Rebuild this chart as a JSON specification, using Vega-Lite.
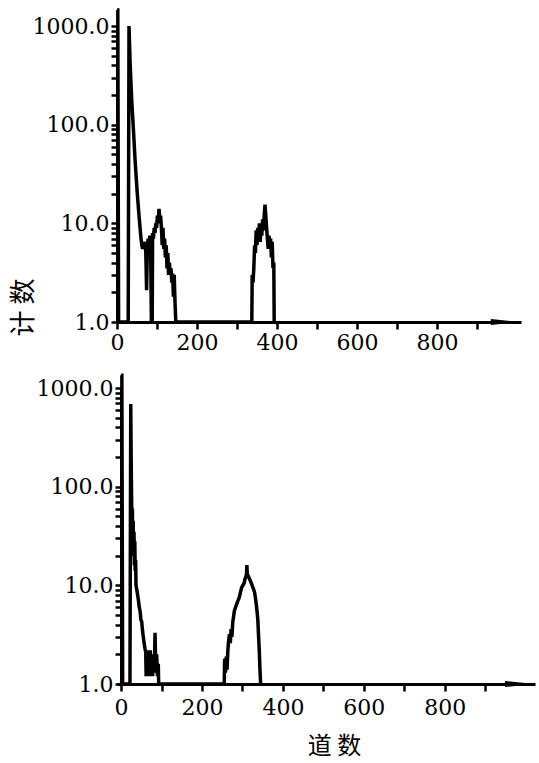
{
  "$schema": "https://vega.github.io/schema/vega-lite/v6.json",
  "padding": {"left": 10, "top": 3, "right": 5, "bottom": 15},
  "background": "white",
  "spacing": 66,
  "bounds": "flush",
  "config": {
    "view": {"stroke": null},
    "axis": {"grid": false, "domainColor": "black", "domainWidth": 3, "tickColor": "black", "tickWidth": 2.5, "labelColor": "black", "titleColor": "black", "labelFont": "DejaVu Serif"}
  },
  "datasets": {
    "top": [
      {"ch":0,"count":1450},{"ch":2,"count":1450},{"ch":4,"count":1},{"ch":28,"count":1},{"ch":30,"count":1000},{"ch":33,"count":400},{"ch":37,"count":170},{"ch":41,"count":90},{"ch":45,"count":45},{"ch":50,"count":22},{"ch":55,"count":12},{"ch":60,"count":7},{"ch":62,"count":6},{"ch":64,"count":5.5},{"ch":66,"count":6},{"ch":68,"count":5.5},{"ch":70,"count":6.5},{"ch":72,"count":5},{"ch":74,"count":2.1},{"ch":76,"count":6},{"ch":78,"count":7},{"ch":80,"count":5},{"ch":82,"count":7.5},{"ch":84,"count":6},{"ch":86,"count":1},{"ch":88,"count":1},{"ch":89,"count":8},{"ch":91,"count":7},{"ch":93,"count":9},{"ch":95,"count":8},{"ch":97,"count":10},{"ch":99,"count":9},{"ch":101,"count":12},{"ch":103,"count":10},{"ch":105,"count":14},{"ch":107,"count":11},{"ch":109,"count":12},{"ch":111,"count":9},{"ch":113,"count":6},{"ch":115,"count":9},{"ch":117,"count":5.5},{"ch":119,"count":7},{"ch":121,"count":4.5},{"ch":123,"count":6},{"ch":125,"count":3.5},{"ch":127,"count":5},{"ch":129,"count":3},{"ch":131,"count":4},{"ch":133,"count":3},{"ch":135,"count":3.5},{"ch":137,"count":2.5},{"ch":139,"count":3.1},{"ch":141,"count":1.8},{"ch":143,"count":3},{"ch":145,"count":1.6},{"ch":147,"count":1},
      {"ch":337,"count":1},{"ch":338,"count":3},{"ch":340,"count":2.5},{"ch":342,"count":3.5},{"ch":344,"count":6},{"ch":346,"count":5},{"ch":348,"count":8.5},{"ch":350,"count":6},{"ch":352,"count":9},{"ch":354,"count":7},{"ch":356,"count":10},{"ch":358,"count":6.5},{"ch":360,"count":9},{"ch":362,"count":7.5},{"ch":364,"count":11},{"ch":366,"count":8.5},{"ch":368,"count":12},{"ch":370,"count":15.5},{"ch":372,"count":12},{"ch":374,"count":9},{"ch":376,"count":7},{"ch":378,"count":5.5},{"ch":380,"count":7.5},{"ch":382,"count":6},{"ch":384,"count":7},{"ch":386,"count":4.5},{"ch":388,"count":6.5},{"ch":390,"count":3.5},{"ch":392,"count":4},{"ch":393,"count":1}
    ],
    "bottom": [
      {"ch":0,"count":1350},{"ch":2,"count":1350},{"ch":4,"count":1},{"ch":22,"count":1},{"ch":24,"count":690},{"ch":25,"count":200},{"ch":26,"count":80},{"ch":27,"count":40},{"ch":28,"count":60},{"ch":29,"count":25},{"ch":30,"count":45},{"ch":31,"count":20},{"ch":32,"count":35},{"ch":33,"count":16},{"ch":34,"count":28},{"ch":35,"count":14},{"ch":36,"count":18},{"ch":37,"count":10},{"ch":39,"count":9},{"ch":41,"count":8},{"ch":43,"count":7},{"ch":45,"count":6},{"ch":47,"count":5.5},{"ch":49,"count":4.5},{"ch":51,"count":4.3},{"ch":53,"count":3.5},{"ch":55,"count":3},{"ch":57,"count":2.6},{"ch":59,"count":2.3},{"ch":61,"count":2.1},{"ch":62,"count":1.2},{"ch":64,"count":2.2},{"ch":66,"count":1.3},{"ch":68,"count":2},{"ch":70,"count":1.2},{"ch":72,"count":2.2},{"ch":74,"count":1.4},{"ch":76,"count":2},{"ch":78,"count":1.2},{"ch":80,"count":2},{"ch":82,"count":1.3},{"ch":84,"count":3.3},{"ch":86,"count":1.3},{"ch":88,"count":2},{"ch":90,"count":1.2},{"ch":92,"count":1.6},{"ch":93,"count":1},
      {"ch":255,"count":1},{"ch":256,"count":1.8},{"ch":258,"count":1.3},{"ch":260,"count":1.9},{"ch":262,"count":1.4},{"ch":264,"count":2.2},{"ch":266,"count":2.8},{"ch":268,"count":3.2},{"ch":270,"count":2.6},{"ch":272,"count":3.6},{"ch":274,"count":3},{"ch":276,"count":4.2},{"ch":278,"count":4.8},{"ch":280,"count":5.5},{"ch":283,"count":6},{"ch":286,"count":6.5},{"ch":289,"count":7},{"ch":292,"count":7.5},{"ch":295,"count":8.5},{"ch":298,"count":9.5},{"ch":301,"count":10},{"ch":304,"count":10.5},{"ch":306,"count":11.5},{"ch":308,"count":12},{"ch":310,"count":13},{"ch":311,"count":16},{"ch":312,"count":13},{"ch":314,"count":12.5},{"ch":316,"count":12},{"ch":318,"count":11.5},{"ch":320,"count":11},{"ch":322,"count":10.5},{"ch":324,"count":10},{"ch":326,"count":9.5},{"ch":328,"count":9},{"ch":330,"count":8.5},{"ch":332,"count":7.5},{"ch":334,"count":6.5},{"ch":336,"count":5.5},{"ch":338,"count":4.5},{"ch":340,"count":3},{"ch":342,"count":2},{"ch":343,"count":1.5},{"ch":345,"count":1}
    ],
    "arrowTop": [{"ch":972,"count":1}],
    "arrowBottom": [{"ch":986,"count":1}]
  },
  "vconcat": [
    {
      "width": 404,
      "height": 296,
      "layer": [
        {
          "data": {"name": "top"},
          "mark": {"type": "line", "color": "black", "strokeWidth": 3.5, "clip": false},
          "encoding": {
            "x": {"field": "ch", "type": "quantitative", "title": null,
              "scale": {"domain": [0, 1010], "nice": false, "zero": false},
              "axis": {"values": [0,100,200,300,400,500,600,700,800,900], "labelExpr": "datum.value % 200 == 0 && datum.value <= 800 ? datum.label : ''", "labelFont": "DejaVu Serif", "labelFontSize": 22, "tickSize": 7, "labelPadding": 3, "labelFlush": false, "labelOverlap": false, "labelBound": false}},
            "y": {"field": "count", "type": "quantitative", "title": "计 数",
              "scale": {"type": "log", "domain": [1, 1000], "nice": false},
              "axis": {"values": [1,2,3,4,5,6,7,8,9,10,20,30,40,50,60,70,80,90,100,200,300,400,500,600,700,800,900,1000], "labelExpr": "datum.value == 1 || datum.value == 10 || datum.value == 100 || datum.value == 1000 ? format(datum.value, '.1f') : ''", "labelFont": "DejaVu Serif", "labelFontSize": 22, "tickSize": 6, "labelPadding": 2, "labelOverlap": false, "labelBound": false, "labelFlush": false, "titleFont": "Noto Sans CJK SC", "titleFontSize": 26, "titleFontWeight": "normal", "titleX": -94, "titleY": 281, "titleAngle": 270, "titleAlign": "center", "titleBaseline": "middle"}}
          }
        },
        {
          "data": {"name": "arrowTop"},
          "mark": {"type": "point", "shape": "M-1,-0.2L1,0L-1,0.2Z", "filled": true, "color": "black", "size": 900, "opacity": 1, "clip": false},
          "encoding": {
            "x": {"field": "ch", "type": "quantitative", "title": null},
            "y": {"field": "count", "type": "quantitative", "title": "计 数"}
          }
        }
      ]
    },
    {
      "width": 418,
      "height": 296,
      "layer": [
        {
          "data": {"name": "bottom"},
          "mark": {"type": "line", "color": "black", "strokeWidth": 3.5, "clip": false},
          "encoding": {
            "x": {"field": "ch", "type": "quantitative", "title": "道 数",
              "scale": {"domain": [-10, 1023], "nice": false, "zero": false},
              "axis": {"values": [0,100,200,300,400,500,600,700,800,900], "labelExpr": "datum.value % 200 == 0 && datum.value <= 800 ? datum.label : ''", "labelFont": "DejaVu Serif", "labelFontSize": 22, "tickSize": 7, "labelPadding": 6, "labelFlush": false, "labelOverlap": false, "labelBound": false, "titleFont": "Noto Sans CJK SC", "titleFontSize": 24, "titleFontWeight": "normal", "titleX": 217, "titleY": 62, "titleAlign": "center", "titleBaseline": "middle"}},
            "y": {"field": "count", "type": "quantitative", "title": null,
              "scale": {"type": "log", "domain": [1, 1000], "nice": false},
              "axis": {"offset": -4, "values": [1,2,3,4,5,6,7,8,9,10,20,30,40,50,60,70,80,90,100,200,300,400,500,600,700,800,900,1000], "labelExpr": "datum.value == 1 || datum.value == 10 || datum.value == 100 || datum.value == 1000 ? format(datum.value, '.1f') : ''", "labelFont": "DejaVu Serif", "labelFontSize": 22, "tickSize": 6, "labelPadding": 2, "labelOverlap": false, "labelBound": false, "labelFlush": false}}
          }
        },
        {
          "data": {"name": "arrowBottom"},
          "mark": {"type": "point", "shape": "M-1,-0.2L1,0L-1,0.2Z", "filled": true, "color": "black", "size": 900, "opacity": 1, "clip": false},
          "encoding": {
            "x": {"field": "ch", "type": "quantitative", "title": "道 数"},
            "y": {"field": "count", "type": "quantitative", "title": null}
          }
        }
      ]
    }
  ]
}
